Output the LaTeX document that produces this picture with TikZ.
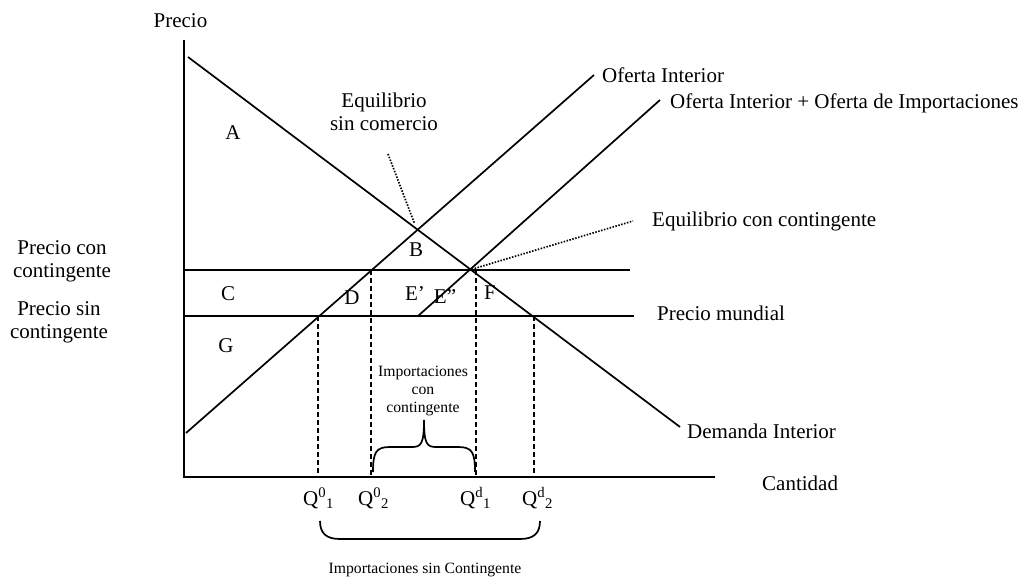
\documentclass[tikz,border=0pt]{standalone}
\usepackage{fontspec}
\setmainfont{Liberation Serif}
\usetikzlibrary{calc}
\newcommand\mainsz{\fontsize{21}{23}\selectfont}
\newcommand\smallsz{\fontsize{15.7}{18}\selectfont}
\begin{document}
\begin{tikzpicture}[x=1pt,y=-1pt,
  every node/.style={inner sep=0pt,font=\mainsz},
  lbl/.style={anchor=base west},
  curve/.style={line width=1.7pt},
  axis/.style={line width=2.2pt},
  guide/.style={line width=1.8pt,dash pattern=on 5pt off 3pt},
  pointer/.style={line width=1.7pt,dash pattern=on 1.5pt off 1.5pt},
  smalltxt/.style={font=\smallsz,align=center},
  brace/.style={line width=1.7pt}]
\useasboundingbox (0,0) rectangle (1027,580);
% coordinates
\coordinate (O) at (184,477);
\coordinate (ytop) at (184,40);
\coordinate (xend) at (715,477);
\coordinate (dA) at (188,57);
\coordinate (dB) at (680,427);
\coordinate (sA) at (186,433);
\coordinate (sB) at (594,75);
\coordinate (tA) at (418,316);
\coordinate (tB) at (660,100);
\coordinate (pq1) at (184,270);
\coordinate (pq2) at (630,270);
\coordinate (pw1) at (184,316);
\coordinate (pw2) at (634,316);
\coordinate (eq0) at (416.7,229.3);
\coordinate (eqq) at (471.7,269.3);
\coordinate (eq0p) at (388,154);
\coordinate (eqqp) at (633,221);
\coordinate (v1t) at (318,316); \coordinate (v1b) at (318,477);
\coordinate (v2t) at (371,270); \coordinate (v2b) at (371,477);
\coordinate (v3t) at (476,270); \coordinate (v3b) at (476,477);
\coordinate (v4t) at (534,316); \coordinate (v4b) at (534,477);
% axes
\draw[axis] (ytop) -- (O) -- (xend);
% curves
\draw[curve] (dA) -- (dB);
\draw[curve] (sA) -- (sB);
\draw[curve] (tA) -- (tB);
\draw[curve] (pq1) -- (pq2);
\draw[curve] (pw1) -- (pw2);
% guides
\draw[guide] (v1t) -- (v1b);
\draw[guide] (v2t) -- (v2b);
\draw[guide] (v3t) -- (v3b);
\draw[guide] (v4t) -- (v4b);
% pointers
\draw[pointer] (eq0p) -- ($(eq0)!0.07!(eq0p)$);
\draw[pointer] (eqq) -- (eqqp);
% labels
\node[anchor=base] (precio) at (180.5,28) {Precio};
\node (eqsin) at (384,112) [align=center] {Equilibrio\\sin comercio};
\node (A) at (233,133) {A};
\node (B) at (416,250) {B};
\node (C) at (228,294) {C};
\node (D) at (352,298) {D};
\node (E1) at (415,294) {E'};
\node (E2) at (445,297) {E''};
\node (F) at (490,293) {F};
\node (G) at (226,346) {G};
\node (pcon) at (62,261) [align=center] {Precio con\\contingente};
\node (psin) at (59,322) [align=center] {Precio sin\\contingente};
\node[lbl] (of1) at (602,83) {Oferta Interior};
\node[lbl] (of2) at (670,109) {Oferta Interior + Oferta de Importaciones};
\node[lbl] (eqcon) at (652,226) {Equilibrio con contingente};
\node[lbl] (pm) at (657,320) {Precio mundial};
\node[lbl] (dem) at (687,438) {Demanda Interior};
\node[lbl] (cant) at (762,490) {Cantidad};
\node[lbl] (q01) at (303,505) {Q\textsuperscript{0}\textsubscript{1}};
\node[lbl] (q02) at (358,505) {Q\textsuperscript{0}\textsubscript{2}};
\node[lbl] (qd1) at (460,505) {Q\textsuperscript{d}\textsubscript{1}};
\node[lbl] (qd2) at (522,505) {Q\textsuperscript{d}\textsubscript{2}};
\node[smalltxt] (impcon) at (423,391) {Importaciones\\con\\contingente};
\node[font=\smallsz,anchor=base] (impsin) at (425,573) {Importaciones sin Contingente};
% braces
\coordinate (b1l) at (373,472);
\coordinate (b1r) at (475,472);
\coordinate (b1t) at (424,420);
\draw[brace] (b1l) .. controls (373,452) and (376,447) .. (390,447) -- (412,447)
  .. controls (421,447) and (424,444) .. (b1t)
  .. controls (424,444) and (427,447) .. (436,447) -- (458,447)
  .. controls (472,447) and (475,452) .. (b1r);
\coordinate (b2l) at (320,521);
\coordinate (b2r) at (540,521);
\draw[brace] (b2l) .. controls (320,533) and (326,539) .. (340,539) -- (520,539)
  .. controls (534,539) and (540,533) .. (b2r);
\end{tikzpicture}
\end{document}
